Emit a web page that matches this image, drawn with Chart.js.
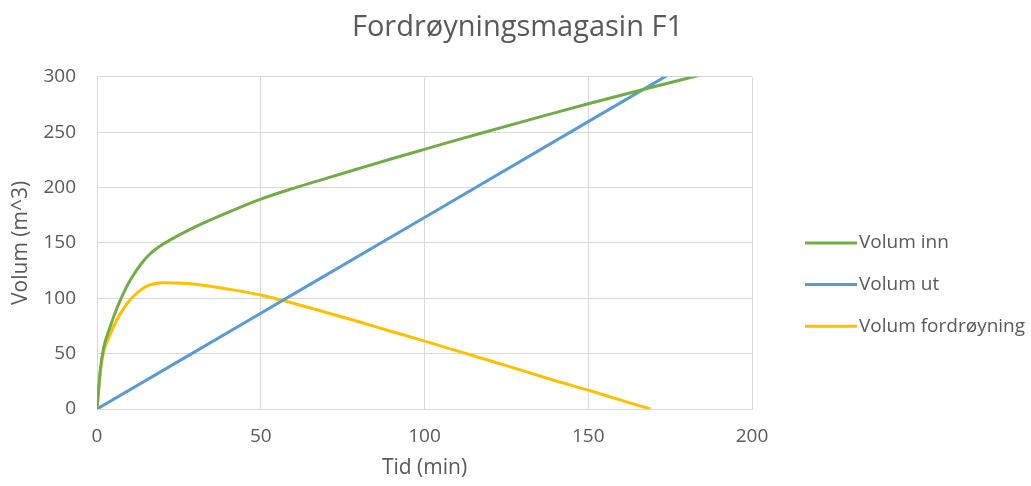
<!DOCTYPE html>
<html>
<head>
<meta charset="utf-8">
<script src="https://cdn.jsdelivr.net/npm/chart.js@4/dist/chart.umd.min.js"></script>
<style>
  html, body { margin: 0; padding: 0; background: #ffffff; }
  #wrap { width: 1031px; height: 486px; }
</style>
</head>
<body>
<div id="wrap"><canvas id="c" width="1031" height="486"></canvas></div>
<script>
// Time axis (minutes) for inflow volume
const tidInn = [0, 1, 2, 4, 6, 8, 10, 12, 14, 16, 18, 20, 25, 30, 40, 50, 60, 70, 80, 90, 100, 110, 120, 130, 140, 150, 160, 170, 180, 185];
const volumInn = [0, 35, 55, 74, 90.5, 104, 115.5, 125, 133, 139.5, 144.5, 148.5, 157, 164.5, 177.5, 189.5, 199.3, 208.3, 217.2, 226, 234.5, 243, 251.3, 259.5, 267.6, 275.6, 283.4, 291, 298.4, 302];

// Outflow volume (constant outflow rate)
const tidUt = [0, 50, 100, 150, 180];
const volumUt = [0, 86.5, 173, 259.5, 311.4];

// Detention volume
const tidFord = [0, 1, 2, 4, 6, 8, 10, 12, 14, 16, 18, 20, 25, 30, 40, 50, 60, 70, 80, 90, 100, 110, 120, 130, 140, 150, 160, 169];
const volumFord = [0, 33, 51.5, 67.1, 80.1, 90.2, 98.2, 104.2, 108.8, 111.8, 113.4, 113.9, 113.7, 112.6, 108.3, 103, 95.5, 87.2, 78.8, 70, 61.3, 52.5, 43.6, 34.6, 25.5, 17, 8, 0];

const seriesNames = ['Volum inn', 'Volum ut', 'Volum fordrøyning'];
const seriesColors = ['#70ad47', '#5b9bd5', '#ffc000'];

const xTicks = [0, 50, 100, 150, 200];
const yTicks = [0, 50, 100, 150, 200, 250, 300];

const pts = (xs, ys) => xs.map((x, i) => ({ x: x, y: ys[i] }));

const textColor = '#595959';
const gridColor = '#d9d9d9';
const fontFamily = "'Open Sans', 'Noto Sans', sans-serif";

function lineSet(i, xs, ys) {
  return {
    label: seriesNames[i],
    data: pts(xs, ys),
    borderColor: seriesColors[i],
    backgroundColor: seriesColors[i],
    borderWidth: 3,
    pointRadius: 0,
    pointHoverRadius: 0,
    cubicInterpolationMode: 'monotone',
    fill: false,
    clip: 0
  };
}

// Right-hand legend as a layout box: reserves its column and draws
// a short line sample followed by each series name.
const sideLegend = {
  id: 'sideLegend',
  beforeInit(chart) {
    const box = {
      position: 'right',
      weight: 0,
      fullSize: false,
      options: {},
      left: 0, top: 0, right: 0, bottom: 0, width: 0, height: 0,
      isHorizontal() { return false; },
      update(maxWidth, maxHeight) { this.width = 279; this.height = maxHeight; },
      draw() {
        const ctx = chart.ctx;
        const area = chart.chartArea;
        const x0 = this.left + 53;
        const lineLen = 52;
        const rowGap = 41.7;
        const y0 = (area.top + area.bottom) / 2;
        ctx.save();
        ctx.font = "19px " + fontFamily;
        ctx.textBaseline = 'middle';
        ctx.textAlign = 'left';
        chart.data.datasets.forEach((ds, i) => {
          const y = y0 + i * rowGap;
          ctx.strokeStyle = ds.borderColor;
          ctx.lineWidth = 3;
          ctx.beginPath();
          ctx.moveTo(x0, y);
          ctx.lineTo(x0 + lineLen, y);
          ctx.stroke();
          ctx.fillStyle = textColor;
          ctx.fillText(ds.label, x0 + lineLen + 2, y);
        });
        ctx.restore();
      }
    };
    Chart.layouts.addBox(chart, box);
  }
};

new Chart(document.getElementById('c'), {
  type: 'line',
  data: {
    datasets: [
      lineSet(0, tidInn, volumInn),
      lineSet(1, tidUt, volumUt),
      lineSet(2, tidFord, volumFord)
    ]
  },
  plugins: [sideLegend],
  options: {
    responsive: false,
    animation: false,
    devicePixelRatio: 1,
    layout: { padding: { left: 4, right: 0, top: 10, bottom: 5 } },
    plugins: {
      title: {
        display: true,
        text: 'Fordrøyningsmagasin F1',
        color: textColor,
        font: { family: fontFamily, size: 29, weight: 'normal' },
        padding: { top: 0, bottom: 32 }
      },
      legend: { display: false },
      tooltip: { enabled: false }
    },
    scales: {
      x: {
        type: 'linear',
        min: 0,
        max: 200,
        afterBuildTicks(axis) { axis.ticks = xTicks.map(v => ({ value: v })); },
        afterFit(axis) { axis.height = 72; },
        grid: { color: gridColor, drawTicks: false },
        border: { color: gridColor },
        ticks: { color: textColor, font: { family: fontFamily, size: 19 }, padding: 16.5 },
        title: {
          display: true,
          text: 'Tid (min)',
          color: textColor,
          font: { family: fontFamily, size: 21 },
          padding: { top: 0, bottom: 0 }
        }
      },
      y: {
        type: 'linear',
        min: 0,
        max: 300,
        afterBuildTicks(axis) { axis.ticks = yTicks.map(v => ({ value: v })); },
        afterFit(axis) { axis.width = 93; },
        grid: { color: gridColor, drawTicks: false },
        border: { display: false },
        ticks: { color: textColor, font: { family: fontFamily, size: 19 }, padding: 21 },
        title: {
          display: true,
          text: 'Volum (m^3)',
          color: textColor,
          font: { family: fontFamily, size: 21 },
          padding: { top: 4, bottom: 0 }
        }
      }
    }
  }
});
</script>
</body>
</html>
